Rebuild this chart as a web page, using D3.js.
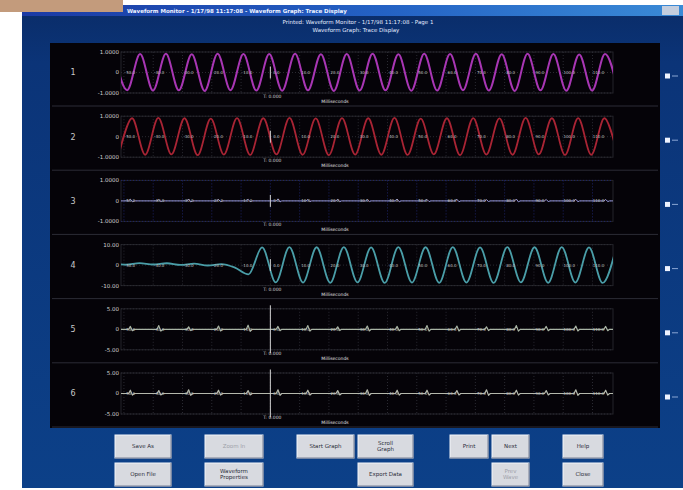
<!DOCTYPE html>
<html>
<head>
<meta charset="utf-8">
<script src="https://cdn.jsdelivr.net/npm/d3@7"></script>
<style>
body { margin: 0; background: #fff; }
svg { display: block; }
text { font-family: "DejaVu Sans", sans-serif; }
</style>
</head>
<body>
<svg width="683" height="490"></svg>
<script>
// ---- data ----
var channels = ["1", "2", "3", "4", "5", "6"];
var yDomains = [[-1, 1], [-1, 1], [-1, 1], [-10, 10], [-5, 5], [-5, 5]];
var yTickLabels = [
  ["1.0000", "0", "-1.0000"],
  ["1.0000", "0", "-1.0000"],
  ["1.0000", "0", "-1.0000"],
  ["10.00", "0", "-10.00"],
  ["5.00", "0", "-5.00"],
  ["5.00", "0", "-5.00"]
];
var timeDomain = [-51, 117];   // milliseconds, trigger at 0
var timeTicks = [-50, -40, -30, -20, -10, 0, 10, 20, 30, 40, 50, 60, 70, 80, 90, 100, 110];

// channel 1 (magenta) - peaks/troughs
var ch1Start = -53.3, ch1Step = 4.41;
var ch1Values = [0.88, -0.86, 0.9, -0.88, 0.91, -0.87, 0.89, -0.9, 0.92, -0.86,
  0.9, -0.88, 0.9, -0.89, 0.91, -0.87, 0.89, -0.9, 0.9, -0.88,
  0.92, -0.87, 0.89, -0.89, 0.91, -0.88, 0.9, -0.86, 0.92, -0.88,
  0.89, -0.9, 0.91, -0.87, 0.9, -0.89, 0.88, -0.88, 0.9, -0.87];

// channel 2 (red)
var ch2Start = -51.7, ch2Step = 4.48;
var ch2Values = [-0.85, 0.9, -0.88, 0.92, -0.86, 0.9, -0.9, 0.88, -0.87, 0.91,
  -0.89, 0.9, -0.86, 0.92, -0.88, 0.89, -0.9, 0.91, -0.87, 0.9,
  -0.88, 0.92, -0.89, 0.88, -0.86, 0.9, -0.9, 0.91, -0.87, 0.89,
  -0.88, 0.92, -0.86, 0.9, -0.89, 0.91, -0.88, 0.9, -0.87];

// channel 4 (cyan) - quiet before trigger, then oscillation
var ch4Start = -53.95, ch4Step = 4.65;
var ch4Values = [0.8, 0.2, 1.0, 0.3, 0.9, 0.1, 0.7, -0.2, 0.5, -1.2, -4.5,
  8.6, -8.4, 8.8, -8.5, 8.7, -8.6, 8.8, -8.4, 8.6, -8.7,
  8.8, -8.5, 8.7, -8.6, 8.8, -8.5, 8.6, -8.7, 8.8, -8.4,
  8.7, -8.6, 8.8, -8.5, 8.6, -8.7, 8.7];

// channels 3, 5, 6 - flat traces with small blips
var blipTimes = [-47.5, -37.8, -27.6, -17.4, -7.3, 2.9, 13.1, 23.3, 33.4,
  43.6, 53.8, 64.0, 74.1, 84.3, 94.5, 104.6, 114.8];
var ch3Blips = [0.08, 0.06, 0.09, 0.07, 0.08, 0.1, 0.07, 0.08, 0.06, 0.09, 0.07, 0.08, 0.06, 0.09, 0.07, 0.08, 0.07];
var ch5Blips = [0.7, 0.9, 0.6, 0.8, 1.0, 0.7, 0.9, 0.6, 0.8, 0.7, 0.9, 0.8, 0.6, 0.9, 0.7, 0.8, 0.7];
var ch6Blips = [0.8, 0.7, 0.9, 0.8, 0.7, 0.9, 0.8, 0.7, 0.9, 0.8, 0.8, 0.7, 0.9, 0.8, 0.7, 0.9, 0.8];

var traceColors = ["#a836b4", "#a82434", "#9898d0", "#4a9ea8", "#a8b4a4", "#b4b8ac"];
var traceWidths = [2, 1.8, 1, 1.8, 1.2, 1.2];

var buttons = [
  {label: ["Save As"], col: 0, row: 0},
  {label: ["Open File"], col: 0, row: 1},
  {label: ["Zoom In"], col: 1, row: 0, off: true},
  {label: ["Waveform", "Properties"], col: 1, row: 1},
  {label: ["Start Graph"], col: 2, row: 0},
  {label: ["Scroll", "Graph"], col: 3, row: 0},
  {label: ["Export Data"], col: 3, row: 1},
  {label: ["Print"], col: 4, row: 0},
  {label: ["Next"], col: 5, row: 0},
  {label: ["Prev", "Wave"], col: 5, row: 1, off: true},
  {label: ["Help"], col: 6, row: 0},
  {label: ["Close"], col: 6, row: 1}
];

// ---- window chrome ----
var svg = d3.select("svg"),
    width = +svg.attr("width"),
    height = +svg.attr("height");

var defs = svg.append("defs");
var tg = defs.append("linearGradient").attr("id", "titleGrad");
tg.append("stop").attr("offset", "0%").attr("stop-color", "#1b3aa4");
tg.append("stop").attr("offset", "55%").attr("stop-color", "#2462c4");
tg.append("stop").attr("offset", "100%").attr("stop-color", "#3a8ad6");
var bg = defs.append("linearGradient").attr("id", "bodyGrad")
    .attr("x1", 0).attr("y1", 0).attr("x2", 0).attr("y2", 1);
bg.append("stop").attr("offset", "0%").attr("stop-color", "#0a2c68");
bg.append("stop").attr("offset", "12%").attr("stop-color", "#0b3478");
bg.append("stop").attr("offset", "100%").attr("stop-color", "#0c4088");

svg.append("rect").attr("width", width).attr("height", height).attr("fill", "#fff");
svg.append("rect").attr("x", 22).attr("y", 5).attr("width", width - 22).attr("height", 483)
    .attr("fill", "url(#bodyGrad)");
svg.append("rect").attr("x", 22).attr("y", 5).attr("width", width - 22).attr("height", 11)
    .attr("fill", "url(#titleGrad)");
svg.append("rect").attr("x", 0).attr("y", 0).attr("width", 123).attr("height", 12).attr("fill", "#c39b7c");
svg.append("rect").attr("x", 662).attr("y", 6).attr("width", 17).attr("height", 9).attr("fill", "#c4cede");

svg.append("text").attr("x", 127).attr("y", 13).attr("font-size", 5.5).attr("font-weight", "bold")
    .attr("fill", "#eef2ff")
    .text("Waveform Monitor - 1/17/98 11:17:08 - Waveform Graph: Trace Display");
svg.append("text").attr("x", 358).attr("y", 24).attr("text-anchor", "middle").attr("font-size", 5.5)
    .attr("fill", "#e4ebff").text("Printed: Waveform Monitor - 1/17/98 11:17:08 - Page 1");
svg.append("text").attr("x", 356).attr("y", 32).attr("text-anchor", "middle").attr("font-size", 5.5)
    .attr("fill", "#e4ebff").text("Waveform Graph: Trace Display");

svg.append("rect").attr("x", 50).attr("y", 43).attr("width", 610).attr("height", 385).attr("fill", "#050308");

// ---- panels ----
var x = d3.scaleLinear().domain(timeDomain).range([121, 613]);

function wavePoints(start, step, values) {
  return values.map(function(v, i) { return [start + i * step, v]; });
}
function blipPoints(times, heights) {
  var pts = [[timeDomain[0], 0]];
  times.forEach(function(t, i) {
    var h = heights[i];
    pts.push([t - 0.9, 0], [t - 0.3, h], [t + 0.4, -0.5 * h], [t + 1.0, 0]);
  });
  pts.push([timeDomain[1], 0]);
  return pts;
}

var series = [
  {pts: wavePoints(ch1Start, ch1Step, ch1Values), curve: d3.curveMonotoneX},
  {pts: wavePoints(ch2Start, ch2Step, ch2Values), curve: d3.curveCardinal},
  {pts: blipPoints(blipTimes, ch3Blips), curve: d3.curveLinear},
  {pts: wavePoints(ch4Start, ch4Step, ch4Values), curve: d3.curveMonotoneX},
  {pts: blipPoints(blipTimes, ch5Blips), curve: d3.curveLinear},
  {pts: blipPoints(blipTimes, ch6Blips), curve: d3.curveLinear}
];

channels.forEach(function(ch, i) {
  var top = 44 + i * 64.2;
  var y = d3.scaleLinear().domain(yDomains[i]).range([top + 49, top + 8]);
  var g = svg.append("g");
  var gridColor = i === 2 ? "#1e2468" : "#2a2a32";

  defs.append("clipPath").attr("id", "clip" + i)
    .append("rect").attr("x", x.range()[0]).attr("y", top + 2)
    .attr("width", x.range()[1] - x.range()[0]).attr("height", 54);

  // separator under panel
  g.append("line").attr("x1", 52).attr("x2", 658)
    .attr("y1", top + 62).attr("y2", top + 62)
    .attr("stroke", "#2c2c36").attr("stroke-width", 1);

  // frame and grid
  g.append("rect").attr("x", x.range()[0]).attr("y", y.range()[1])
    .attr("width", x.range()[1] - x.range()[0]).attr("height", y.range()[0] - y.range()[1])
    .attr("fill", "none").attr("stroke", "#24242a");
  g.selectAll(".vg").data(timeTicks).enter().append("line")
    .attr("x1", function(d) { return x(d); }).attr("x2", function(d) { return x(d); })
    .attr("y1", y.range()[1]).attr("y2", y.range()[0])
    .attr("stroke", gridColor).attr("stroke-dasharray", "1,2");
  g.selectAll(".hg").data(y.ticks(2)).enter().append("line")
    .attr("x1", x.range()[0]).attr("x2", x.range()[1])
    .attr("y1", function(d) { return y(d); }).attr("y2", function(d) { return y(d); })
    .attr("stroke", gridColor).attr("stroke-dasharray", "1,2");

  // y tick labels
  var yVals = [yDomains[i][1], 0, yDomains[i][0]];
  g.selectAll(".yl").data(yVals).enter().append("text")
    .attr("x", 119).attr("y", function(d) { return y(d); })
    .attr("dy", "0.35em").attr("text-anchor", "end")
    .attr("font-size", 5.5).attr("fill", "#d0d0d0")
    .text(function(d, k) { return yTickLabels[i][k]; });

  // channel number
  g.append("text").attr("x", 73).attr("y", y(0)).attr("dy", "0.35em")
    .attr("text-anchor", "middle").attr("font-size", 8).attr("fill", "#c8c8c8").text(ch);

  // trace
  g.append("path").datum(series[i].pts)
    .attr("clip-path", "url(#clip" + i + ")")
    .attr("fill", "none").attr("stroke", traceColors[i])
    .attr("stroke-width", traceWidths[i]).attr("stroke-linejoin", "round")
    .attr("d", d3.line().curve(series[i].curve)
      .x(function(d) { return x(d[0]); })
      .y(function(d) { return y(d[1]); }));

  // time labels along the zero line
  g.selectAll(".xl").data(timeTicks).enter().append("text")
    .attr("x", function(d) { return x(d) + 6; }).attr("y", y(0))
    .attr("dy", "0.35em").attr("text-anchor", "middle")
    .attr("font-size", 4).attr("fill", "#c0c0c0")
    .text(function(d) { return d.toFixed(1); });

  // trigger marker
  var trigLen = i >= 4 ? 24 : 6;
  g.append("line").attr("x1", x(0)).attr("x2", x(0))
    .attr("y1", y(0) - trigLen).attr("y2", y(0) + trigLen)
    .attr("stroke", "#d4d4d4").attr("stroke-width", 1);
  g.append("text").attr("x", x(0) + 2).attr("y", top + 54)
    .attr("text-anchor", "middle").attr("font-size", 4.5).attr("fill", "#d0d0d0").text("T: 0.000");
  g.append("text").attr("x", 335).attr("y", top + 59)
    .attr("text-anchor", "middle").attr("font-size", 4.5).attr("fill", "#e0e0e0").text("Milliseconds");

  // channel select markers on the right
  g.append("rect").attr("x", 665).attr("y", y(0) + 1).attr("width", 5).attr("height", 5).attr("fill", "#eef3ff");
  g.append("line").attr("x1", 672).attr("x2", 678).attr("y1", y(0) + 3.5).attr("y2", y(0) + 3.5)
    .attr("stroke", "#8aa6d4").attr("stroke-width", 1);
});

// ---- buttons ----
var colX = [115, 205, 297, 358, 450, 492, 563];
var colW = [56, 58, 57, 55, 38, 37, 40];
var bw = svg.append("g");
buttons.forEach(function(b) {
  var bx = colX[b.col], by = b.row === 0 ? 435 : 463, w = colW[b.col], h = 23;
  var gb = bw.append("g");
  gb.append("rect").attr("x", bx).attr("y", by).attr("width", w).attr("height", h)
    .attr("fill", "#d8dae0").attr("stroke", "#f4f6fa").attr("stroke-width", 1);
  gb.append("line").attr("x1", bx).attr("x2", bx + w).attr("y1", by + h).attr("y2", by + h)
    .attr("stroke", "#6a7288");
  gb.append("line").attr("x1", bx + w).attr("x2", bx + w).attr("y1", by).attr("y2", by + h)
    .attr("stroke", "#6a7288");
  b.label.forEach(function(s, k) {
    gb.append("text").attr("x", bx + w / 2)
      .attr("y", by + h / 2 + (k - (b.label.length - 1) / 2) * 6)
      .attr("dy", "0.35em").attr("text-anchor", "middle")
      .attr("font-size", 5.5).attr("fill", b.off ? "#a0a2aa" : "#2a2c38").text(s);
  });
});
</script>
</body>
</html>
